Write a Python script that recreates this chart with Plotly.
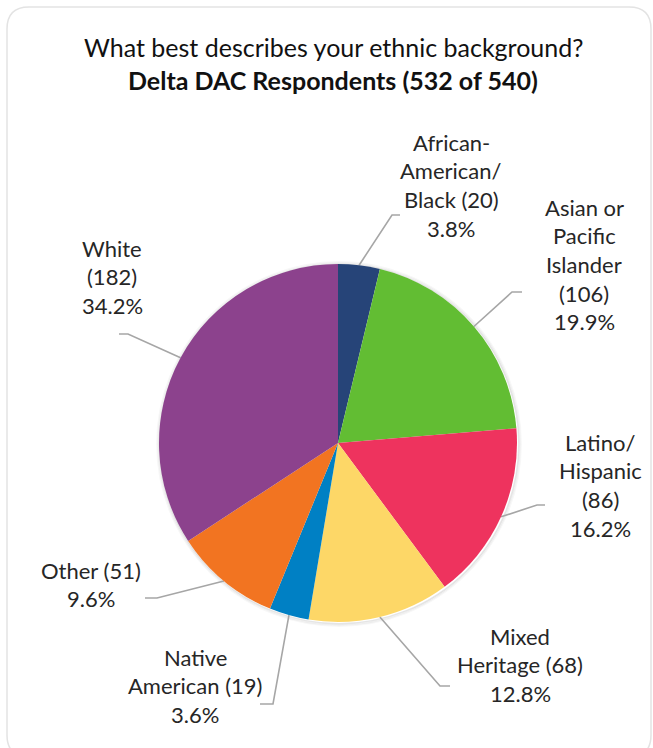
import math
import plotly.graph_objects as go

# Survey answers, clockwise from 12 o'clock
categories = ["African-American/Black", "Asian or Pacific Islander", "Latino/Hispanic",
              "Mixed Heritage", "Native American", "Other", "White"]
counts = [20, 106, 86, 68, 19, 51, 182]
colors = ["#264478", "#62BD33", "#EE335E", "#FDD767", "#0080C4", "#F27421", "#8C428D"]

# Label text per slice: "|" separates lines, {n} = count, {p} = share
label_templates = [
    "African-|American/|Black ({n})|{p}",
    "Asian or|Pacific|Islander|({n})|{p}",
    "Latino/|Hispanic|({n})|{p}",
    "Mixed|Heritage ({n})|{p}",
    "Native|American ({n})|{p}",
    "Other ({n})|{p}",
    "White|({n})|{p}",
]

title_line1 = "What best describes your ethnic background?"
title_line2 = "Delta DAC Respondents (532 of 540)"

# ---- layout (pixels, page is 653 x 748) ----
W, H = 653, 748
CX, CY, R = 338, 443, 179
# per label: text centre x, first line centre y, elbow x, elbow y, end of horizontal tick x
label_layout = [
    (451, 142, 392, 215, 400),
    (584, 207, 512, 292, 522),
    (600, 442, 537, 505, 545),
    (520, 636, 440, 686, 450),
    (195, 657, 273, 704, 260),
    (91, 570, 157, 598, 145),
    (112, 248, 128, 334, 119),
]
LINE_STEP = 28.7
FONT = "Lato, Carlito, Calibri, sans-serif"
TEXT_COLOR = "#262626"
LEADER_COLOR = "#A6A6A6"

total = sum(counts)

fig = go.Figure()

fig.add_trace(go.Pie(
    labels=categories, values=counts, sort=False, direction="clockwise", rotation=0,
    marker=dict(colors=colors, line=dict(width=0)),
    textinfo="none", hoverinfo="label+value+percent", showlegend=False,
    domain=dict(x=[(CX - R) / W, (CX + R) / W], y=[(H - CY - R) / H, (H - CY + R) / H]),
))

shapes = []
# soft shadow rings around the pie
for i, a in enumerate([0.10, 0.06, 0.03]):
    rr = R + 0.8 + i * 1.2
    shapes.append(dict(type="circle", xref="x", yref="y", x0=CX - rr + 1, x1=CX + rr + 1,
                       y0=CY - rr + 1, y1=CY + rr + 1, line=dict(color=f"rgba(0,0,0,{a})", width=1.4),
                       layer="below"))

# rounded frame
x0, y0, x1, y1, rc = 7, 7, 651, 757, 22
frame = (f"M {x0+rc},{y0} L {x1-rc},{y0} Q {x1},{y0} {x1},{y0+rc} L {x1},{y1-rc} "
         f"Q {x1},{y1} {x1-rc},{y1} L {x0+rc},{y1} Q {x0},{y1} {x0},{y1-rc} "
         f"L {x0},{y0+rc} Q {x0},{y0} {x0+rc},{y0} Z")
shapes.append(dict(type="path", xref="x", yref="y", path=frame,
                   line=dict(color="#E3E3E3", width=1.5), layer="below"))

annotations = []
cum = 0
for cnt, tmpl, (tx, ty, ex, ey, hx) in zip(counts, label_templates, label_layout):
    mid = (cum + cnt / 2) / total * 2 * math.pi
    cum += cnt
    ax = CX + R * math.sin(mid)
    ay = CY - R * math.cos(mid)
    fig.add_trace(go.Scatter(x=[ax, ex, hx], y=[ay, ey, ey], mode="lines",
                             line=dict(color=LEADER_COLOR, width=1.6),
                             hoverinfo="skip", showlegend=False))
    pct = f"{cnt / total * 100:.1f}%"
    lines = tmpl.format(n=cnt, p=pct).split("|")
    for k, line in enumerate(lines):
        annotations.append(dict(x=tx, y=ty + k * LINE_STEP, xref="x", yref="y", text=line,
                                showarrow=False, xanchor="center", yanchor="middle",
                                font=dict(family=FONT, size=22, color=TEXT_COLOR)))

annotations.append(dict(x=333, y=47, xref="x", yref="y", text=title_line1, showarrow=False,
                        xanchor="center", yanchor="middle",
                        font=dict(family=FONT, size=25, color="#111111")))
annotations.append(dict(x=333, y=80, xref="x", yref="y", text=f"<b>{title_line2}</b>",
                        showarrow=False, xanchor="center", yanchor="middle",
                        font=dict(family=FONT, size=25, color="#111111")))

fig.update_layout(
    width=W, height=H, margin=dict(l=0, r=0, t=0, b=0),
    paper_bgcolor="white", plot_bgcolor="rgba(0,0,0,0)",
    xaxis=dict(range=[0, W], visible=False, fixedrange=True),
    yaxis=dict(range=[H, 0], visible=False, fixedrange=True),
    shapes=shapes, annotations=annotations,
)

fig.write_html("out.html", config={"displayModeBar": False})
